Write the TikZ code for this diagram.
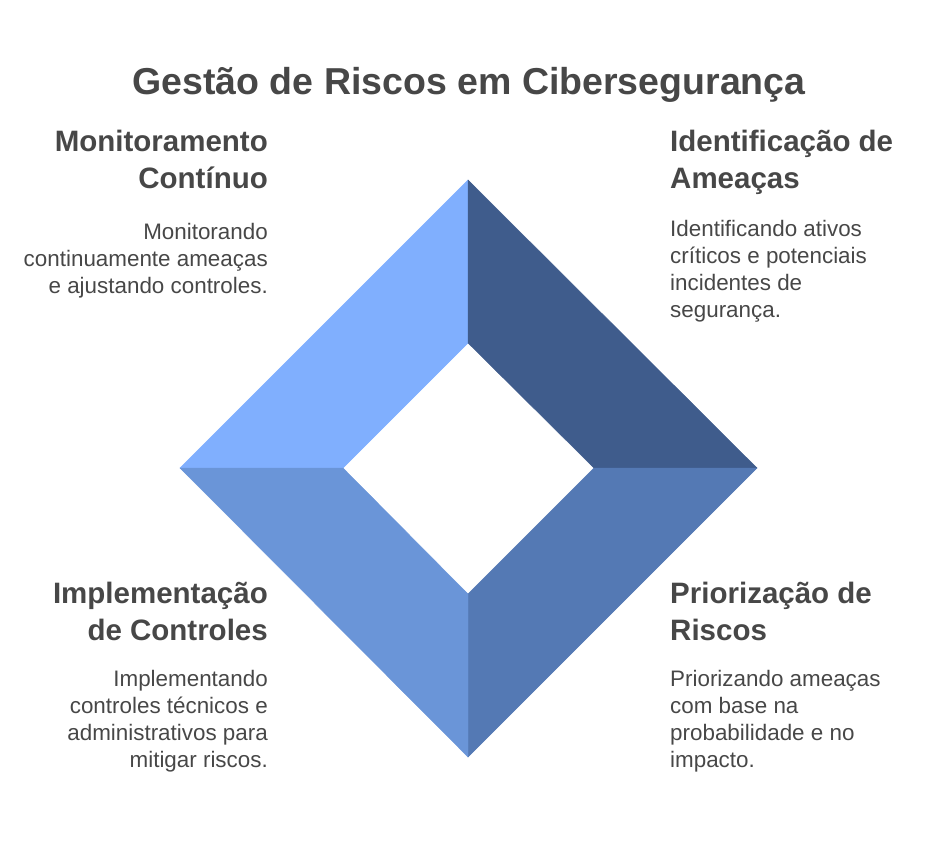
\documentclass[tikz,border=0pt]{standalone}
\usepackage{fontspec}
\setmainfont{Liberation Sans}
\usepackage{xcolor}
\definecolor{quadTL}{HTML}{80AFFE}
\definecolor{quadTR}{HTML}{3F5C8C}
\definecolor{quadBR}{HTML}{5479B4}
\definecolor{quadBL}{HTML}{6A95D8}
\definecolor{inkgray}{HTML}{474747}
\usetikzlibrary{positioning}

\begin{document}
\begin{tikzpicture}[x=1pt, y=-1pt,
    quad/.style={line width=0.4pt, line join=miter},
    titletext/.style={font=\fontsize{37.5}{42}\selectfont\bfseries, text=inkgray, inner sep=0pt},
    headtext/.style={font=\fontsize{29.5}{37}\selectfont\bfseries, text=inkgray, inner sep=0pt},
    bodytext/.style={font=\fontsize{22.4}{26.7}\selectfont, text=inkgray, inner sep=0pt}]
  \useasboundingbox (0,0) rectangle (938,848);
  % corners of the outer and inner diamond
  \coordinate (oT) at (468,180);
  \coordinate (oR) at (757,468);
  \coordinate (oB) at (468,757);
  \coordinate (oL) at (180,468);
  \coordinate (iT) at (468,343);
  \coordinate (iR) at (594,468);
  \coordinate (iB) at (468,594);
  \coordinate (iL) at (343,468);
  % four quarters
  \filldraw[quad, fill=quadTL, draw=quadTL] (oL) -- (oT) -- (iT) -- (iL) -- cycle;
  \filldraw[quad, fill=quadTR, draw=quadTR] (oT) -- (oR) -- (iR) -- (iT) -- cycle;
  \filldraw[quad, fill=quadBR, draw=quadBR] (oR) -- (oB) -- (iB) -- (iR) -- cycle;
  \filldraw[quad, fill=quadBL, draw=quadBL] (oB) -- (oL) -- (iL) -- (iB) -- cycle;
  % title
  \node[titletext, anchor=base] (title) at (469,95) {Gestão de Riscos em Cibersegurança};
  % top left (base = last line)
  \node[headtext, anchor=base east, align=right] (monHead) at (268,189) {Monitoramento\\Contínuo};
  \node[bodytext, anchor=base east, align=right] (monBody) at (268,293)
    {Monitorando\\continuamente ameaças\\e ajustando controles.};
  % top right
  \node[headtext, anchor=base west, align=left] (idHead) at (670,189) {Identificação de\\Ameaças};
  \node[bodytext, anchor=base west, align=left] (idBody) at (670,317)
    {Identificando ativos\\críticos e potenciais\\incidentes de\\segurança.};
  % bottom left
  \node[headtext, anchor=base east, align=right] (impHead) at (268,640) {Implementação\\de Controles};
  \node[bodytext, anchor=base east, align=right] (impBody) at (268,767)
    {Implementando\\controles técnicos e\\administrativos para\\mitigar riscos.};
  % bottom right
  \node[headtext, anchor=base west, align=left] (priHead) at (670,640) {Priorização de\\Riscos};
  \node[bodytext, anchor=base west, align=left] (priBody) at (670,767)
    {Priorizando ameaças\\com base na\\probabilidade e no\\impacto.};
\end{tikzpicture}
\end{document}
